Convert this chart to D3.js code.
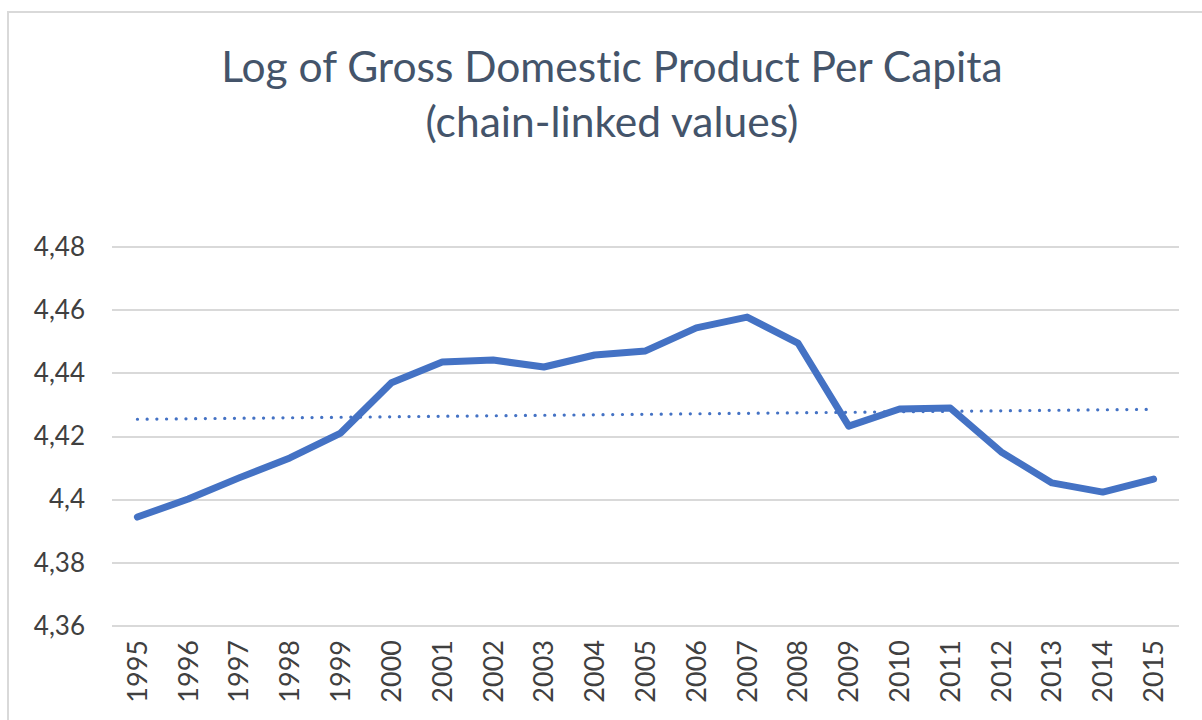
<!DOCTYPE html>
<html>
<head>
<meta charset="utf-8">
<script src="https://cdn.jsdelivr.net/npm/d3@7"></script>
<style>
  body { margin: 0; background: #fff; }
  text { font-family: Lato, "Open Sans", sans-serif; font-variant-ligatures: none; }
</style>
</head>
<body>
<svg id="chart" width="1202" height="720"></svg>
<script>
// data
const years = ["1995", "1996", "1997", "1998", "1999", "2000", "2001", "2002", "2003", "2004",
  "2005", "2006", "2007", "2008", "2009", "2010", "2011", "2012", "2013", "2014", "2015"]
const logGdp = [4.3945, 4.4002, 4.4069, 4.4132, 4.4211, 4.4370, 4.4436, 4.4442, 4.4420, 4.4458,
  4.4471, 4.4544, 4.4578, 4.4496, 4.4233, 4.4287, 4.4290, 4.4151, 4.4053, 4.4024, 4.4065]
const yTicks = [4.36, 4.38, 4.40, 4.42, 4.44, 4.46, 4.48]
const titleLines = ["Log of Gross Domestic Product Per Capita", "(chain-linked values)"]

const svg = d3.select("#chart")
const margin = {top: 247, right: 23, bottom: 94, left: 112}
const width = +svg.attr("width")
const height = +svg.attr("height")

// chart frame
svg.append("rect")
  .attr("x", 8).attr("y", 12)
  .attr("width", 1220).attr("height", 740)
  .attr("fill", "none")
  .attr("stroke", "#d9d9d9")
  .attr("stroke-width", 2)

svg.append("g")
  .selectAll("text")
  .data(titleLines)
  .enter().append("text")
  .attr("x", 612)
  .attr("y", (d, i) => 82 + i * 55)
  .attr("text-anchor", "middle")
  .attr("font-size", 42.5)
  .attr("fill", "#44546a")
  .text(d => d)

const x = d3.scaleBand()
  .domain(years)
  .range([margin.left, width - margin.right])

const y = d3.scaleLinear()
  .domain([4.36, 4.48])
  .range([height - margin.bottom, margin.top])

// gridlines
svg.append("g")
  .selectAll("line")
  .data(yTicks)
  .enter().append("line")
  .attr("x1", margin.left)
  .attr("x2", width - margin.right)
  .attr("y1", d => Math.round(y(d)))
  .attr("y2", d => Math.round(y(d)))
  .attr("stroke", "#d9d9d9")
  .attr("stroke-width", 2)

// y-axis labels (comma decimals)
const fmt = d => d3.format(".2~f")(d).replace(".", ",")
const yAxis = svg.append("g")
  .attr("transform", `translate(${margin.left}, 0)`)
  .call(d3.axisLeft(y).tickValues(yTicks).tickFormat(fmt).tickSize(0).tickPadding(27))
yAxis.select(".domain").remove()
yAxis.selectAll("text")
  .attr("font-family", "Lato, 'Open Sans', sans-serif")
  .attr("font-size", 26)
  .attr("fill", "#404040")

// x-axis labels, rotated
const xAxis = svg.append("g")
  .attr("transform", `translate(0, ${height - margin.bottom})`)
  .call(d3.axisBottom(x).tickSize(0).tickPadding(0))
xAxis.select(".domain").remove()
xAxis.selectAll("text")
  .attr("font-family", "Lato, 'Open Sans', sans-serif")
  .attr("font-size", 27)
  .attr("fill", "#404040")
  .attr("text-anchor", "end")
  .attr("dy", "0.35em")
  .attr("transform", "translate(0, 14) rotate(-90)")

// linear trend (least squares over the series)
const idx = d3.range(years.length)
const mx = d3.mean(idx), my = d3.mean(logGdp)
const slope = d3.sum(idx, i => (i - mx) * (logGdp[i] - my)) / d3.sum(idx, i => (i - mx) ** 2)
const trend = idx.map(i => my + slope * (i - mx))

const line = d3.line()
  .x((d, i) => x(years[i]) + x.bandwidth() / 2)
  .y(d => y(d))

svg.append("path")
  .datum(trend)
  .attr("fill", "none")
  .attr("stroke", "#4472c4")
  .attr("stroke-width", 3.2)
  .attr("stroke-linecap", "round")
  .attr("stroke-dasharray", "0.1 9.6")
  .attr("d", line)

svg.append("path")
  .datum(logGdp)
  .attr("fill", "none")
  .attr("stroke", "#4472c4")
  .attr("stroke-width", 7)
  .attr("stroke-linejoin", "round")
  .attr("stroke-linecap", "round")
  .attr("d", line)
</script>
</body>
</html>
